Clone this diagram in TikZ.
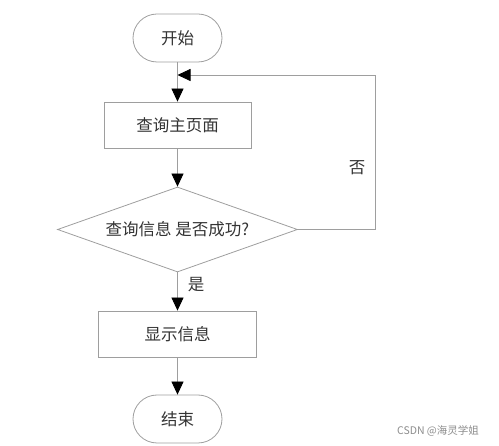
\documentclass[tikz,border=0pt]{standalone}
\usepackage{fontspec}
\setmainfont{Noto Sans CJK SC}
\usetikzlibrary{shapes.geometric,arrows.meta}
\begin{document}
\begin{tikzpicture}[x=1pt,y=-1pt,
  line/.style={draw=black!38, line width=0.8pt},
  arr/.style={line, -{Triangle[length=13pt,width=12pt,color=black,fill=black]}},
  txt/.style={font=\fontsize{16.5}{19}\selectfont, text=black!80},
  term/.style={line, txt, rectangle, rounded corners=24pt, minimum width=89pt, minimum height=48pt, inner sep=0pt},
  proc/.style={line, txt, rectangle, minimum height=46pt, inner sep=0pt},
  dec/.style={line, txt, diamond, aspect=2.8, minimum width=240pt, minimum height=85pt, inner sep=0pt}
]
\useasboundingbox (0,0) rectangle (499,446);
\node[term] (start) at (177.5,38) {开始};
\node[proc, minimum width=147pt] (q) at (177.5,125) {查询主页面};
\node[dec] (d) at (177.5,229.5) {查询信息 是否成功?};
\node[proc, minimum width=158pt] (show) at (177.5,334) {显示信息};
\node[term] (end) at (177.5,419) {结束};
\coordinate (c1) at (375,229.5);
\coordinate (c2) at (375,75);
\coordinate (j) at (177.5,75);
\draw[arr] (start) -- (q);
\draw[arr] (q) -- (d);
\draw[arr] (d) -- (show);
\draw[arr] (show) -- (end);
\draw[arr] (d.east) -- (c1) -- (c2) -- (j);
\node[txt] (no) at (357,168) {否};
\node[txt] (yes) at (196,285) {是};
\node[font=\fontsize{10.5}{12}\selectfont, text=black!45] (wm) at (438,431) {CSDN @海灵学姐};
\end{tikzpicture}
\end{document}
